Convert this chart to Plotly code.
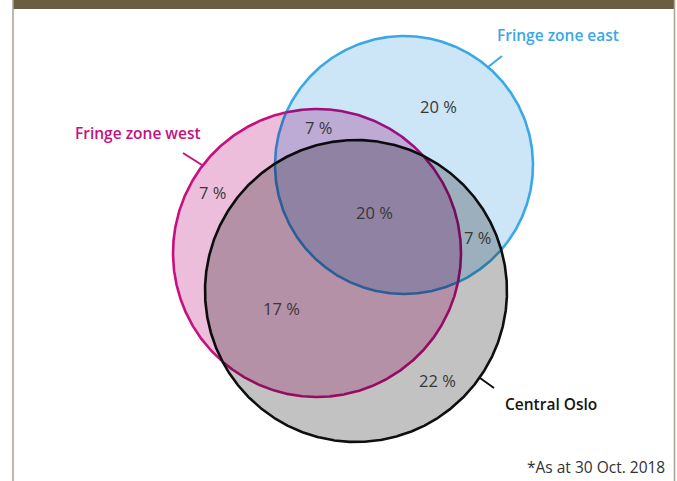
import numpy as np
import plotly.graph_objects as go

# ---------------- data ----------------
set_names = ["Fringe zone east", "Fringe zone west", "Central Oslo"]
set_keys = ["east", "west", "central"]
pct_values = [20, 7, 7, 20, 7, 17, 22]
pct_regions = [("east",), ("east", "west"), ("west",), ("east", "west", "central"),
               ("east", "central"), ("west", "central"), ("central",)]
footnote = "*As at 30 Oct. 2018"

# ---------------- layout geometry (pixel space) ----------------
W, H = 677, 481
circle_cx = {"east": 404, "west": 317, "central": 356}
circle_cy = {"east": 165, "west": 253, "central": 291}
circle_r = {"east": 129, "west": 144, "central": 151}
fill_rgb = {"east": (204, 230, 248), "west": (236, 190, 220), "central": (194, 194, 194)}
stroke_rgb = {"east": (58, 168, 228), "west": (198, 16, 128), "central": (15, 15, 15)}
pct_pos = [(438, 106), (318, 127), (212, 192), (374, 212), (477, 237), (281, 308), (437, 380)]
name_pos = {"east": (495, 35, "left"), "west": (73, 133, "left"), "central": (503, 404, "left")}
leader = {"east": ((488, 67), (502, 56)), "west": ((183, 153), (202, 165)), "central": ((480, 378), (494, 388))}


def mul(*cols):
    out = np.array([255.0, 255.0, 255.0])
    for c in cols:
        out = out * np.array(c) / 255.0
    return "rgb(%d,%d,%d)" % tuple(int(round(v)) for v in out)


def inside(k, x, y, tol=1e-6):
    return (x - circle_cx[k]) ** 2 + (y - circle_cy[k]) ** 2 <= circle_r[k] ** 2 + tol


def region_poly(keys, n=2400):
    xs, ys = [], []
    for k in keys:
        th = np.linspace(0, 2 * np.pi, n, endpoint=False)
        x = circle_cx[k] + circle_r[k] * np.cos(th)
        y = circle_cy[k] + circle_r[k] * np.sin(th)
        m = np.ones(n, bool)
        for o in keys:
            if o != k:
                m &= inside(o, x, y, 0.5)
        xs.append(x[m]); ys.append(y[m])
    x = np.concatenate(xs); y = np.concatenate(ys)
    mx, my = x.mean(), y.mean()
    order = np.argsort(np.arctan2(y - my, x - mx))
    x = x[order]; y = y[order]
    return np.append(x, x[0]), np.append(y, y[0])


fig = go.Figure()

# fills, painted so that each region ends with its blended colour
fill_order = [("central",), ("west",), ("east",), ("west", "central"), ("east", "central"),
              ("east", "west"), ("east", "west", "central")]
for keys in fill_order:
    x, y = region_poly(keys)
    fig.add_trace(go.Scatter(x=x, y=y, mode="lines", fill="toself", line=dict(width=0),
                             fillcolor=mul(*[fill_rgb[k] for k in keys]),
                             hoverinfo="skip", showlegend=False))

# outlines, each segment tinted by the fills lying over it
N = 1440
for k in set_keys:
    th = np.linspace(0, 2 * np.pi, N, endpoint=False)
    x = circle_cx[k] + circle_r[k] * np.cos(th)
    y = circle_cy[k] + circle_r[k] * np.sin(th)
    others = [o for o in set_keys if o != k]
    sets = [tuple(o for o in others if inside(o, x[i], y[i])) for i in range(N)]
    start = 0
    for i in range(N):
        if sets[i] != sets[i - 1]:
            start = i
            break
    idx = [(start + i) % N for i in range(N)]
    runs = []
    cur = [idx[0]]
    for j in idx[1:]:
        if sets[j] == sets[cur[-1]]:
            cur.append(j)
        else:
            runs.append(cur)
            cur = [j]
    runs.append(cur)
    for run in runs:
        pts = run + [(run[-1] + 1) % N]
        s = sets[run[0]]
        fig.add_trace(go.Scatter(x=x[pts], y=y[pts], mode="lines",
                                 line=dict(width=2.6, color=mul(stroke_rgb[k], *[fill_rgb[o] for o in s])),
                                 hoverinfo="skip", showlegend=False))

# leader lines
for k in set_keys:
    (x0, y0), (x1, y1) = leader[k]
    fig.add_shape(type="line", x0=x0, y0=y0, x1=x1, y1=y1, xref="x", yref="y",
                  line=dict(color=mul(stroke_rgb[k]), width=2))

# set names
name_color = {"east": "rgb(58,168,228)", "west": "rgb(198,16,128)", "central": "rgb(20,20,20)"}
for k, name in zip(set_keys, set_names):
    px, py, anc = name_pos[k]
    fig.add_annotation(x=px, y=py, xref="x", yref="y", text=name, showarrow=False,
                       xanchor=anc, yanchor="middle",
                       font=dict(family="Open Sans", size=15.5, color=name_color[k], weight=600))

# percentages
for v, (px, py) in zip(pct_values, pct_pos):
    fig.add_annotation(x=px, y=py, xref="x", yref="y", text=f"{v} %", showarrow=False,
                       xanchor="center", yanchor="middle",
                       font=dict(family="Open Sans", size=16.5, color="rgb(55,55,55)"))

fig.add_annotation(x=667, y=467, xref="x", yref="y", text=footnote, showarrow=False,
                   xanchor="right", yanchor="middle",
                   font=dict(family="Open Sans", size=15.5, color="rgb(50,50,50)"))

# frame
fig.add_shape(type="rect", x0=13, x1=675, y0=0, y1=9, xref="x", yref="y",
              fillcolor="#6B5E40", line=dict(width=0), layer="above")
for xb in (13, 674.5):
    fig.add_shape(type="line", x0=xb, x1=xb, y0=0, y1=H, xref="x", yref="y",
                  line=dict(color="#A9A290", width=1.5), layer="above")

fig.update_layout(
    width=W, height=H, margin=dict(l=0, r=0, t=0, b=0),
    paper_bgcolor="white", plot_bgcolor="white",
    xaxis=dict(range=[0, W], visible=False, fixedrange=True),
    yaxis=dict(range=[H, 0], visible=False, fixedrange=True),
    showlegend=False,
)

fig.write_html("out.html", config={"displayModeBar": False, "staticPlot": True},
               post_script="document.body.style.margin='0';document.body.style.overflow='hidden';")
